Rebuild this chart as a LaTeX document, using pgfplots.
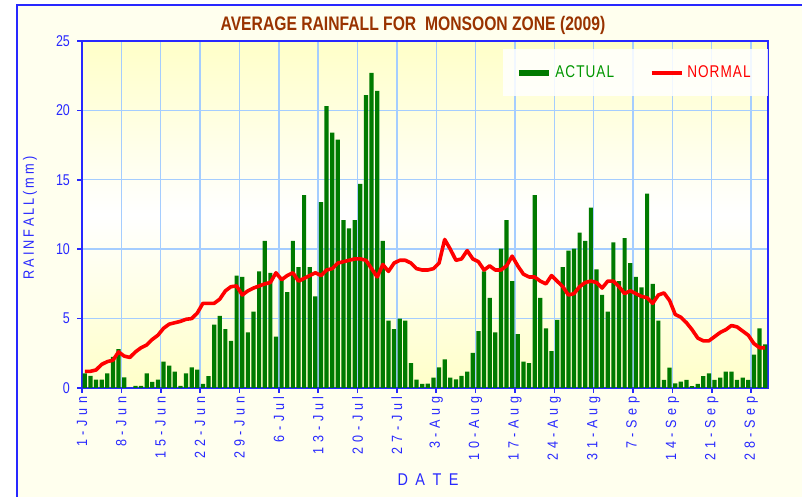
\documentclass[border=0pt]{standalone}
\usepackage{fontspec}
\setmainfont{Liberation Sans}
\newfontfamily\lblfont[FakeStretch=0.85,LetterSpace=20]{Liberation Sans}
\newfontfamily\xlblfont[FakeStretch=0.85,LetterSpace=32]{Liberation Sans}
\newfontfamily\numfont[FakeStretch=0.8]{Liberation Sans}
\newfontfamily\legfont[FakeStretch=0.8,LetterSpace=6]{Liberation Sans}
\newfontfamily\titlefont[FakeStretch=0.8]{Liberation Sans}
\usepackage{pgfplots}
\pgfplotsset{compat=1.18}
\usepackage{pgfplotstable}

\definecolor{axblue}{RGB}{40,40,255}
\definecolor{gridblue}{RGB}{165,205,255}
\definecolor{bargreen}{RGB}{0,122,0}
\definecolor{leggreen}{RGB}{0,150,0}
\definecolor{titlebrown}{RGB}{153,51,0}
\definecolor{bgyellow}{RGB}{255,255,200}
\definecolor{outyellow}{RGB}{255,255,238}

\pgfplotstableread{
d act nor
0 1.06 1.2
1 0.88 1.2
2 0.60 1.3
3 0.60 1.7
4 1.06 1.9
5 2.25 2.0
6 2.80 2.6
7 0.77 2.3
8 0.00 2.2
9 0.16 2.6
10 0.16 2.9
11 1.06 3.1
12 0.45 3.5
13 0.60 3.8
14 1.90 4.3
15 1.62 4.6
16 1.18 4.7
17 0.16 4.8
18 1.06 4.95
19 1.48 5.0
20 1.32 5.4
21 0.30 6.1
22 0.86 6.1
23 4.56 6.1
24 5.20 6.4
25 4.25 7.0
26 3.40 7.3
27 8.10 7.35
28 8.00 6.7
29 4.00 7.0
30 5.50 7.2
31 8.40 7.35
32 10.60 7.5
33 8.30 7.6
34 3.70 8.3
35 8.00 7.8
36 6.90 8.1
37 10.60 8.3
38 8.70 7.7
39 13.90 7.9
40 8.70 8.1
41 6.60 8.3
42 13.40 8.1
43 20.30 8.5
44 18.40 8.6
45 17.90 9.0
46 12.10 9.1
47 11.50 9.2
48 12.10 9.3
49 14.70 9.3
50 21.10 9.2
51 22.70 8.6
52 21.40 8.0
53 10.60 8.9
54 4.85 8.4
55 4.25 9.0
56 5.00 9.2
57 4.85 9.2
58 1.80 9.0
59 0.60 8.6
60 0.30 8.5
61 0.32 8.5
62 0.75 8.6
63 1.48 9.0
64 2.07 10.7
65 0.75 10.0
66 0.62 9.2
67 0.88 9.3
68 1.18 9.9
69 2.53 9.3
70 4.10 9.1
71 8.40 8.5
72 6.50 8.8
73 4.00 8.5
74 10.05 8.5
75 12.10 8.8
76 7.70 9.5
77 3.88 8.8
78 1.90 8.2
79 1.80 8.0
80 13.90 8.0
81 6.50 7.7
82 4.30 7.5
83 2.65 8.1
84 4.90 7.7
85 8.70 7.3
86 9.90 6.7
87 10.05 6.8
88 11.20 7.3
89 10.60 7.6
90 13.00 7.7
91 8.55 7.6
92 6.70 7.2
93 5.50 7.7
94 10.50 7.7
95 7.70 7.3
96 10.80 6.8
97 9.00 7.0
98 8.00 6.8
99 7.25 6.6
100 14.00 6.5
101 7.50 6.1
102 4.85 6.7
103 0.58 6.85
104 1.46 6.3
105 0.34 5.3
106 0.46 5.1
107 0.58 4.7
108 0.14 4.2
109 0.30 3.6
110 0.86 3.4
111 1.06 3.4
112 0.58 3.7
113 0.74 4.0
114 1.18 4.2
115 1.18 4.5
116 0.58 4.4
117 0.74 4.1
118 0.58 3.8
119 2.40 3.2
120 4.30 2.9
121 3.15 2.9
}\raindata

\begin{document}
\begin{tikzpicture}
\useasboundingbox (0,0) rectangle (401pt,248.5pt);
\fill[white] (0,0) rectangle (401pt,248.5pt);
\fill[outyellow] (8.5pt,0) rectangle (401pt,246pt);
\draw[axblue, line width=1pt] (8.5pt,0) -- (8.5pt,246pt) -- (402pt,246pt);

\begin{axis}[
  at={(41pt,54.5pt)}, anchor=south west,
  scale only axis, width=343pt, height=173.5pt,
  xmin=0, xmax=122, ymin=0, ymax=25,
  xtick={0,7,...,119},
  xticklabels={1-Jun,8-Jun,15-Jun,22-Jun,29-Jun,6-Jul,13-Jul,20-Jul,27-Jul,3-Aug,10-Aug,17-Aug,24-Aug,31-Aug,7-Sep,14-Sep,21-Sep,28-Sep},
  ytick={0,5,...,25},
  axis background/.style={top color=bgyellow, bottom color=bgyellow, middle color=white},
  grid=major,
  major grid style={gridblue, line width=0.7pt},
  axis line style={axblue, line width=1pt},
  tick style={axblue, line width=0.8pt},
  tick align=outside, major tick length=2.5pt,
  xtick pos=bottom, ytick pos=left,
  /pgf/number format/assume math mode=true,
  x tick label style={rotate=90, anchor=east, font=\xlblfont\fontsize{7.4}{7.4}\selectfont, text=axblue, inner sep=1.5pt},
  y tick label style={font=\numfont\fontsize{7.8}{7.8}\selectfont, text=axblue},
  legend style={at={(rel axis cs:1,0.908)}, anchor=east, draw=none, fill=white, fill opacity=0.85, text opacity=1,
    font=\legfont\fontsize{8.5}{8.5}\selectfont, inner xsep=6.5pt, inner ysep=6pt,
    /tikz/every even column/.append style={column sep=16pt}},
  legend columns=2,
]
\addplot[ybar, bar width=0.75, fill=bargreen, draw=none,
  legend image code/.code={\draw[bargreen, line width=2.6pt] (0pt,0pt) -- (15pt,0pt);}]
  table[x expr=\thisrow{d}+0.5, y=act] {\raindata};
\addlegendentry{\textcolor{leggreen}{ACTUAL}}
\addplot[red, line width=1.8pt, no marks, line join=round,
  legend image code/.code={\draw[red, line width=1.6pt] (0pt,0pt) -- (15pt,0pt);}]
  table[x expr=\thisrow{d}+0.5, y=nor] {\raindata};
\addlegendentry{\textcolor{red}{NORMAL}}
\end{axis}

\node[text=titlebrown, font=\titlefont\bfseries\fontsize{9.8}{9.8}\selectfont] at (206.5pt,236pt) {AVERAGE RAINFALL FOR \ MONSOON ZONE (2009)};
\node[text=axblue, rotate=90, font=\lblfont\fontsize{7.5}{7.5}\selectfont] at (15pt,139.5pt) {RAINFALL(mm)};
\node[text=axblue, font=\lblfont\fontsize{8.5}{8.5}\selectfont] at (214pt,8.5pt) {D A T E};
\end{tikzpicture}
\end{document}
